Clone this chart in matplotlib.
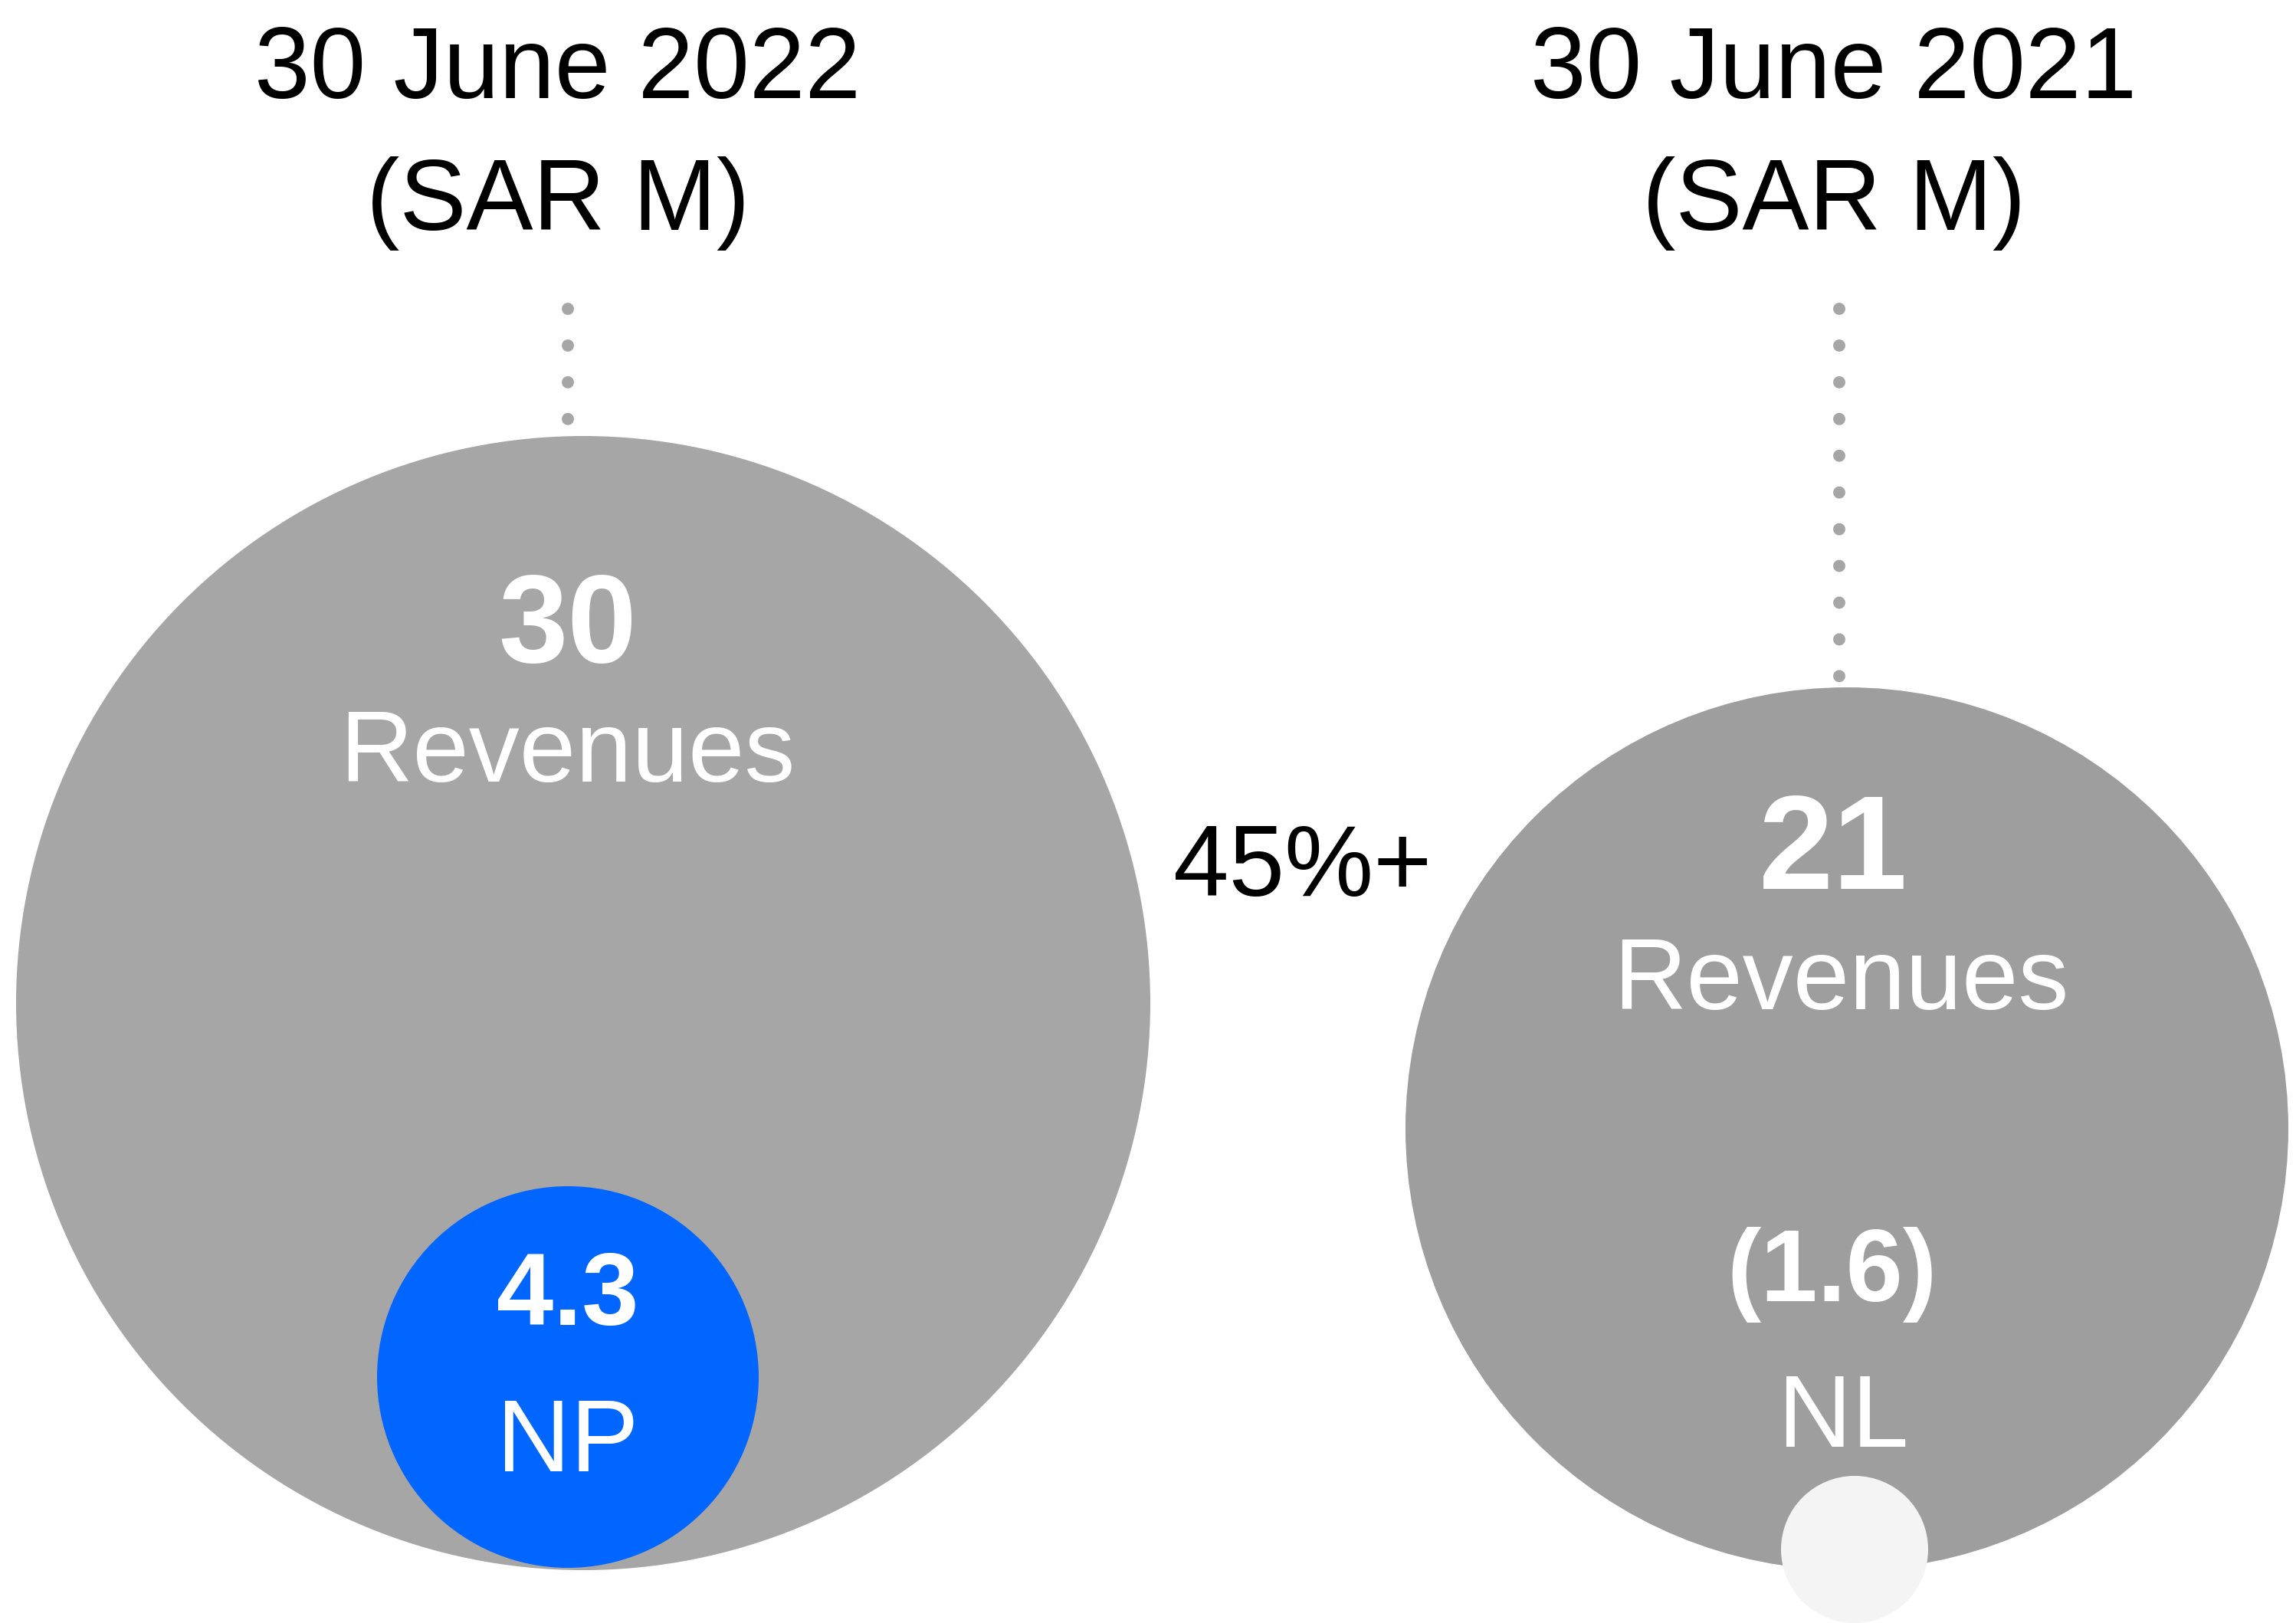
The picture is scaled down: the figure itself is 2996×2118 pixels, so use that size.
import matplotlib
matplotlib.use('Agg')
import matplotlib.pyplot as plt
from matplotlib.patches import Circle

plt.rcParams['font.family'] = ['Liberation Sans', 'DejaVu Sans']

# Chart data
periods = ['30 June 2022', '30 June 2021']
units = '(SAR M)'
revenues = [30, 21]
revenue_label = 'Revenues'
profits = [4.3, -1.6]
profit_labels = ['NP', 'NL']
growth_label = '45%+'


def fmt_profit(v):
    # losses shown in brackets
    if v < 0:
        return '({:.1f})'.format(abs(v))
    return '{:.1f}'.format(v)


def main():
    W, H = 2996, 2118
    fig = plt.figure(figsize=(W / 100, H / 100), dpi=100)
    ax = fig.add_axes([0, 0, 1, 1])
    ax.set_xlim(0, W)
    ax.set_ylim(H, 0)
    ax.set_aspect('equal')
    ax.axis('off')

    # layout (pixels), one entry per period
    big_xy = [(761, 1309), (2410, 1473)]
    big_r = [740, 576]
    big_col = ['#a6a6a6', '#9e9e9e']
    small_xy = [(741, 1797), (2420, 2022)]
    small_r = [249, 96]
    small_col = ['#0066ff', '#f4f4f4']
    title_x = [728, 2393]
    dot_x = [741, 2400]
    dot_end = [550, 886]
    rev_y = [864, 1160]
    rev_size = [117, 126]
    revlab = [(740, 1020), (2402, 1317)]
    prof_xy = [(741, 1729), (2390, 1698)]
    proflab_xy = [(741, 1920), (2405, 1888)]

    for i in range(len(periods)):
        ax.add_patch(Circle(big_xy[i], big_r[i], color=big_col[i], lw=0, zorder=1))
        ax.add_patch(Circle(small_xy[i], small_r[i], color=small_col[i], lw=0, zorder=2))

        # titles
        ax.text(title_x[i], 128, periods[i], ha='center', va='baseline',
                fontsize=94, color='black')
        ax.text(title_x[i], 300, units, ha='center', va='baseline',
                fontsize=94, color='black')

        # dotted leader
        ax.plot([dot_x[i], dot_x[i]], [403, dot_end[i]], color='#a6a6a6',
                lw=11.5, linestyle=(0, (0.001, 3.0)), dash_capstyle='round',
                zorder=1)

        # revenue
        ax.text(big_xy[i][0] - 20 + (i * 2), rev_y[i], '{:g}'.format(revenues[i]),
                ha='center', va='baseline', fontsize=rev_size[i],
                fontweight='bold', color='white', zorder=3)
        ax.text(revlab[i][0], revlab[i][1], revenue_label, ha='center',
                va='baseline', fontsize=95, color='white', zorder=3)

        # profit / loss
        ax.text(prof_xy[i][0], prof_xy[i][1], fmt_profit(profits[i]),
                ha='center', va='baseline', fontsize=96, fontweight='bold',
                color='white', zorder=3)
        ax.text(proflab_xy[i][0], proflab_xy[i][1], profit_labels[i],
                ha='center', va='baseline', fontsize=96, color='white', zorder=3)

    ax.text(1700, 1169, growth_label, ha='center', va='baseline',
            fontsize=94, color='black')

    fig.savefig('out.png', dpi=100, facecolor='white')
    plt.close()


if __name__ == '__main__':
    main()
